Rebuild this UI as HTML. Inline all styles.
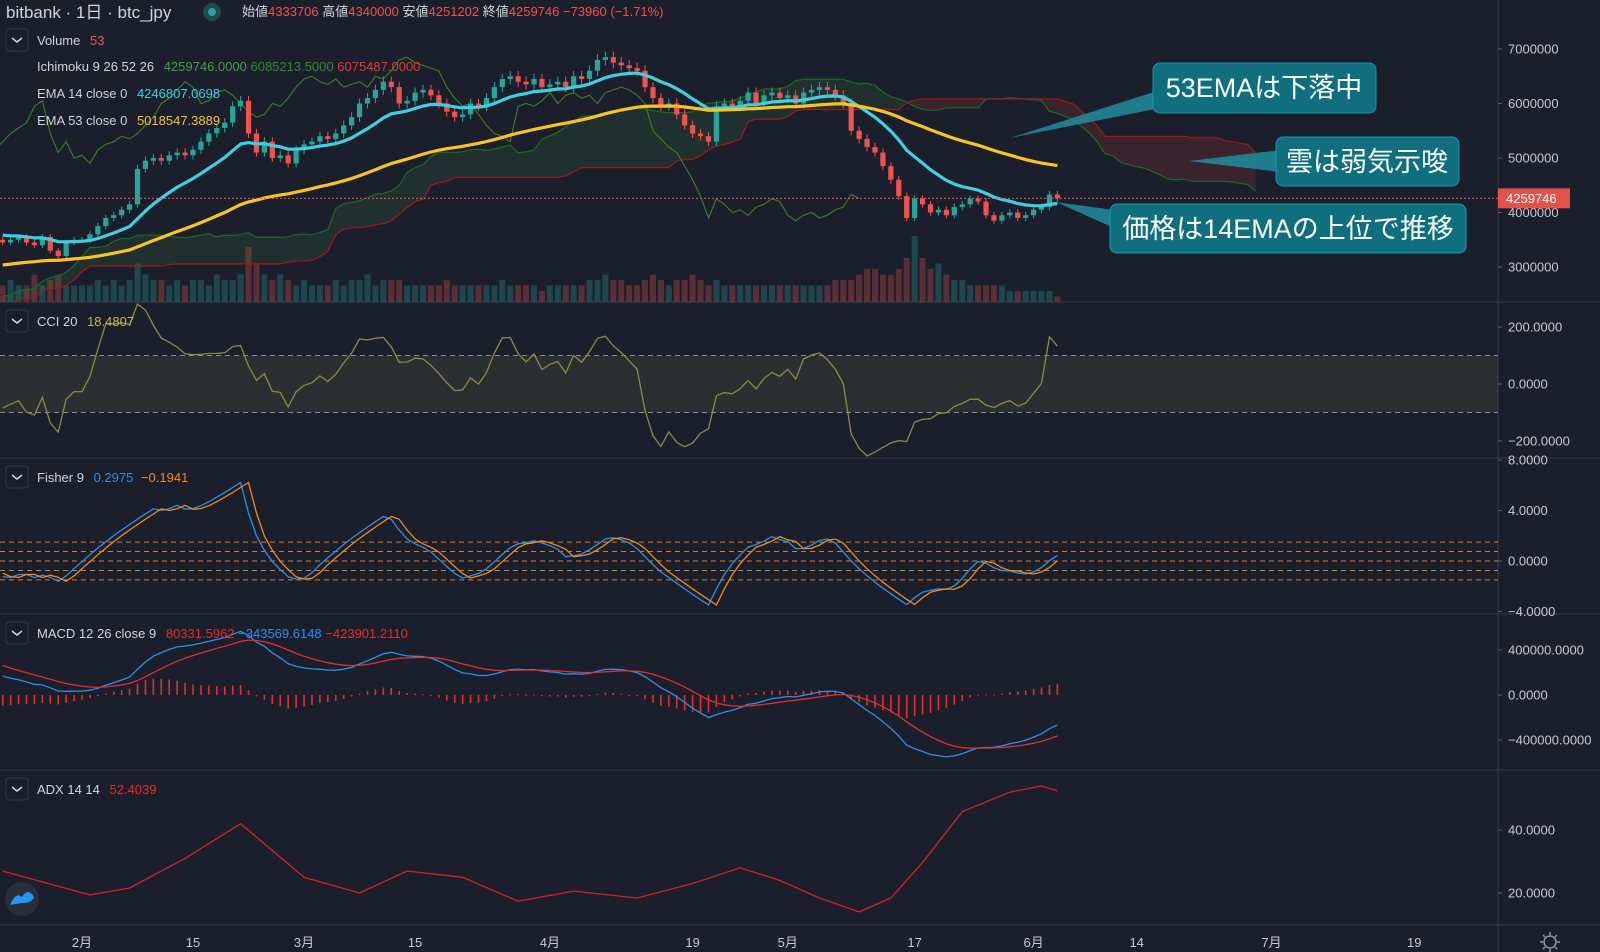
<!DOCTYPE html>
<html><head><meta charset="utf-8">
<style>
html,body{margin:0;padding:0;background:#1b1f2c;}
svg{display:block;font-family:"Liberation Sans","Noto Sans CJK JP",sans-serif;}
</style></head>
<body>
<svg id="chart" width="1600" height="952" viewBox="0 0 1600 952" xmlns="http://www.w3.org/2000/svg">
<rect width="1600" height="952" fill="#1b1f2c"/>
</svg>
<script>
// ---- data (prices in millions JPY) ----
const preCloses=[1.95,2.0,1.98,1.8,1.85,1.9,1.95,2.0,
2.0,1.98,2.0,1.95,1.98,2.0,1.98,1.95,1.9,1.9,1.88,1.95,1.98,2.0,2.02,2.15,2.35,2.35,2.4,2.45,2.45,2.4,2.4,2.45,2.5,2.6,2.7,2.8,2.8,3.0,3.0,
3.05,3.3,3.4,3.3,3.5,3.7,4.0,4.2,4.1,3.9,3.5,3.5,3.8,4.0,3.8,3.7,3.65,3.7,3.7,3.4,3.5];
const closes=[3.45,3.5,3.55,3.45,3.4,3.55,3.3,3.2,3.45,3.5,
3.5,3.6,3.75,3.9,3.95,4.05,4.15,4.8,4.95,5.0,
4.95,5.05,5.1,5.05,5.15,5.3,5.45,5.55,5.65,
5.95,6.05,5.45,5.1,5.3,5.0,5.05,4.9,5.15,
5.25,5.3,5.4,5.35,5.45,5.6,5.75,6.0,6.1,6.25,
6.4,6.3,6.0,6.05,6.2,6.25,6.15,6.0,5.85,5.75,5.8,
6.0,5.95,6.1,6.3,6.45,6.5,6.4,6.35,6.45,6.3,
6.35,6.4,6.3,6.5,6.45,6.6,6.8,6.85,6.75,6.7,
6.65,6.6,6.3,6.1,5.95,6.0,5.8,5.6,5.45,5.4,
5.3,5.95,6.0,5.95,6.05,6.2,6.0,6.15,6.2,6.1,
6.15,6.0,6.2,6.25,6.3,6.25,6.15,6.0,5.5,5.35,
5.2,5.1,4.85,4.6,4.3,3.9,4.25,4.15,4.0,4.05,
3.95,4.1,4.15,4.25,4.2,3.95,3.85,3.95,4.0,3.9,3.95,
4.05,4.1,4.33,4.26];
const volumes=[3,4,3,3,5,3,4,5,3,3, 3,3,4,3,4,3,4,7,5,4, 4,3,4,3,4,4,3,5,4,4,
5,10,7,5,4,5,4,3,4,3, 3,3,4,3,4,4,5,3,4,4, 4,3,3,3,3,3,4,3,3,3,
3,3,3,4,3,3,3,3,2,3, 3,3,3,3,4,4,5,4,4,3, 3,4,5,4,3,4,4,5,4,3,
4,3,3,3,3,3,3,3,3,3, 3,3,3,3,3,4,4,4,5,6, 6,5,5,6,8,12,8,6,7,5,
4,4,3,3,3,3,3,2,2,2, 2,2,2,1];
const adxDays=[0,11,16,23,30,38,45,51,58,65,72,80,87,93,98,103,108,112,116,121,127,131,133];
const adxVals=[27,19.4,21.6,31,42,25,20,27,25,17.4,20.6,18.4,23,28,24,18.4,14,18.4,29.7,45.8,52,54,52.4];
const priceTicks=[7,6,5,4,3];
const priceTickLabels=["7000000","6000000","5000000","4000000","3000000"];
const cciTicks=[200,0,-200];
const cciTickLabels=["200.0000","0.0000","\u2212200.0000"];
const fisherTicks=[8,4,0,-4];
const fisherTickLabels=["8.0000","4.0000","0.0000","\u22124.0000"];
const fisherLevels=[1.5,0.75,0,-0.75,-1.5];
const macdTicks=[400000,0,-400000];
const macdTickLabels=["400000.0000","0.0000","\u2212400000.0000"];
const adxTicks=[40,20];
const adxTickLabels=["40.0000","20.0000"];
const dateTickDays=[10,24,38,52,69,87,99,115,130,143,160,178];
const dateTickLabels=["2月","15","3月","15","4月","19","5月","17","6月","14","7月","19"];
const lastPrice="4259746";

// ---- axes ----
const AXX=1498;
const X=i=>2.7+i*7.93;
const yP=p=>49+(7-p)*54.5;
const yC=v=>384-v/200*57;
const yF=v=>561-v*12.6;
const yM=v=>695-v/400000*45;
const yA=v=>893-(v-20)*3.15;

const NS="http://www.w3.org/2000/svg";
const svg=document.getElementById('chart');
function mk(tag,attrs,parent){const e=document.createElementNS(NS,tag);for(const k in attrs)e.setAttribute(k,attrs[k]);(parent||svg).appendChild(e);return e;}
function pts(arr){return arr.map(p=>p[0].toFixed(1)+','+p[1].toFixed(1)).join(' ');}

const defs=mk('defs',{});
const cp=mk('clipPath',{id:'plot'},defs);mk('rect',{x:0,y:0,width:AXX,height:302},cp);

// ---- computations ----
const all=preCloses.concat(closes);const OFF=preCloses.length;
const opens=all.map((c,i)=>i?all[i-1]:c);
const highs=all.map((c,i)=>Math.max(c,opens[i])*1.015);
const lows=all.map((c,i)=>Math.min(c,opens[i])*0.985);
function ema(src,n){const k=2/(n+1);let e=src[0];return src.map(v=>e=v*k+e*(1-k));}
const ema14=ema(all,14),ema53=ema(all,53);
function mid(i,n){let h=-1e9,l=1e9;for(let j=Math.max(0,i-n+1);j<=i;j++){h=Math.max(h,highs[j]);l=Math.min(l,lows[j]);}return (h+l)/2;}

[302,458,614,770,925].forEach(y=>{const l=mk('line',{x1:0,x2:1600,y1:y,y2:y,stroke:'#2e3240','stroke-width':1.5});});
const ax=mk('line',{x1:AXX,x2:AXX,y1:0,y2:952,stroke:'#2e3240','stroke-width':1.5});


const main=mk('g',{'clip-path':'url(#plot)'});


closes.forEach((c,i)=>{const g=OFF+i;const up=c>=opens[g];const h=volumes[i]*5.5;
 const r=mk('rect',{x:X(i)-3,y:302-h,width:6,height:h,fill:up?'rgba(38,166,154,0.3)':'rgba(239,83,80,0.3)'},main);
 });

const spanA=[],spanB=[];
for(let i=-25;i<closes.length;i++){const g=OFF+i;const a=(mid(g,9)+mid(g,26))/2,b=mid(g,52);spanA.push([X(i+25),yP(a)]);spanB.push([X(i+25),yP(b)]);}
for(let k=0;k<spanA.length-1;k++){const bull=spanA[k][1]<spanB[k][1];
 const p=mk('polygon',{points:pts([spanA[k],spanA[k+1],spanB[k+1],spanB[k]]),fill:bull?'rgba(67,160,71,0.13)':'rgba(229,57,53,0.16)',stroke:'none'},main);
 }
const la=mk('polyline',{points:pts(spanA),fill:'none',stroke:'#1e6b22','stroke-width':1.2},main);

const lb=mk('polyline',{points:pts(spanB),fill:'none',stroke:'#a3171b','stroke-width':1.2},main);

const chik=closes.map((c,i)=>[X(i-25),yP(c)]);
const lc=mk('polyline',{points:pts(chik),fill:'none',stroke:'#3f7f26','stroke-width':1.1},main);


const pl=mk('line',{x1:0,x2:AXX,y1:yP(closes[closes.length-1]),y2:yP(closes[closes.length-1]),stroke:'#ef5350','stroke-width':1,'stroke-dasharray':'2,2'});


closes.forEach((c,i)=>{const g=OFF+i;const o=opens[g];const up=c>=o;const col=up?'#26a69a':'#ef5350';
 const w=mk('line',{x1:X(i),x2:X(i),y1:yP(highs[g]),y2:yP(lows[g]),stroke:col,'stroke-width':1},main);
 
 const t=Math.min(yP(o),yP(c)),h=Math.max(1.5,Math.abs(yP(o)-yP(c)));
 const b=mk('rect',{x:X(i)-2.6,y:t,width:5.2,height:h,fill:col},main);
 });

const e14=closes.map((c,i)=>[X(i),yP(ema14[OFF+i])]);
const e53=closes.map((c,i)=>[X(i),yP(ema53[OFF+i])]);
const l14=mk('polyline',{points:pts(e14),fill:'none',stroke:'#3fd0e0','stroke-width':3.2},main);

const l53=mk('polyline',{points:pts(e53),fill:'none',stroke:'#f7c325','stroke-width':3.2},main);


// ---- CCI ----
const tp=all.map((c,i)=>(highs[i]+lows[i]+c)/3);
const cci=all.map((v,i)=>{const s=Math.max(0,i-19);const w=tp.slice(s,i+1);const m=w.reduce((a,b)=>a+b,0)/w.length;const d=w.reduce((a,b)=>a+Math.abs(b-m),0)/w.length||1e-9;return (v-m)/(0.015*d);});
const band=mk('rect',{x:0,y:yC(100),width:AXX,height:yC(-100)-yC(100),fill:'rgba(120,123,80,0.18)'});

[100,-100].forEach(v=>{const l=mk('line',{x1:0,x2:AXX,y1:yC(v),y2:yC(v),stroke:'#8a8c95','stroke-width':1,'stroke-dasharray':'5,4'});});
const cl=mk('polyline',{points:pts(closes.map((c,i)=>[X(i),Math.max(304,Math.min(456,yC(cci[OFF+i])))])),fill:'none',stroke:'#8e8a45','stroke-width':1.3});


// ---- Fisher (on closes) ----
let val=0,fish=0;const fishArr=[];
all.forEach((c,i)=>{let hh=-1e9,ll=1e9;for(let j=Math.max(0,i-8);j<=i;j++){hh=Math.max(hh,all[j]);ll=Math.min(ll,all[j]);}
 val=0.66*((c-ll)/Math.max(hh-ll,1e-9)-0.5)+0.67*val;val=Math.max(-0.999,Math.min(0.999,val));
 fish=0.5*Math.log((1+val)/(1-val))+0.5*fish;fishArr.push(fish);});
fisherLevels.forEach(v=>{const l=mk('line',{x1:0,x2:AXX,y1:yF(v),y2:yF(v),stroke:'#e07a1e','stroke-width':1,'stroke-dasharray':'5,4'});});
const clampF=v=>Math.max(459,Math.min(612,yF(v)));
const fl=mk('polyline',{points:pts(closes.map((c,i)=>[X(i),clampF(fishArr[OFF+i])])),fill:'none',stroke:'#2f8ee8','stroke-width':1.3});

const ft=mk('polyline',{points:pts(closes.map((c,i)=>[X(i),clampF(fishArr[OFF+i-1])])),fill:'none',stroke:'#f08a1c','stroke-width':1.3});


// ---- MACD ----
const e12=ema(all,12),e26=ema(all,26);const macd=all.map((v,i)=>(e12[i]-e26[i])*1e6);const sig=ema(macd,9);
closes.forEach((c,i)=>{const g=OFF+i;const h=macd[g]-sig[g];const y0=yM(0),y1=yM(h);
 const r=mk('rect',{x:X(i)-0.8,y:Math.min(y0,y1),width:1.6,height:Math.max(1,Math.abs(y1-y0)),fill:'#e0302d'});
 });
const ml=mk('polyline',{points:pts(closes.map((c,i)=>[X(i),yM(macd[OFF+i])])),fill:'none',stroke:'#2f8ee8','stroke-width':1.3});

const sl=mk('polyline',{points:pts(closes.map((c,i)=>[X(i),yM(sig[OFF+i])])),fill:'none',stroke:'#e0302d','stroke-width':1.3});


// ---- ADX ----
const al=mk('polyline',{points:pts(adxDays.map((d,k)=>[X(d),yA(adxVals[k])])),fill:'none',stroke:'#d0242a','stroke-width':1.3});


function axisLabels(ticks,labels,fy,name){ticks.forEach((t,k)=>{const y=fy(t);
 const tk=mk('line',{x1:AXX,x2:AXX+4,y1:y,y2:y,stroke:'#5d606b'});
 const tx=mk('text',{x:1508,y:y+4.5,fill:'#c8cad2','font-size':13});tx.textContent=labels[k];});}
axisLabels(priceTicks,priceTickLabels,yP,'price-axis');
axisLabels(cciTicks,cciTickLabels,yC,'cci-axis');
axisLabels(fisherTicks,fisherTickLabels,yF,'fisher-axis');
axisLabels(macdTicks,macdTickLabels,yM,'macd-axis');
axisLabels(adxTicks,adxTickLabels,yA,'adx-axis');
dateTickDays.forEach((d,k)=>{const t=mk('text',{x:X(d),y:947,fill:'#c8cad2','font-size':13,'text-anchor':'middle'});t.textContent=dateTickLabels[k];});

const yl=yP(closes[closes.length-1]);
const pr=mk('rect',{x:AXX,y:yl-10,width:72,height:20,fill:'#e0524a'});
const pt=mk('text',{x:1506,y:yl+4.5,fill:'#fff','font-size':13});pt.textContent=lastPrice;
</script>

<svg style="position:absolute;left:0;top:0" width="1600" height="952" font-family="Liberation Sans, Noto Sans CJK JP, sans-serif">
 <g>
  <text x="6" y="18" fill="#d1d4dc" font-size="17">bitbank · 1日 · btc_jpy</text>
  <circle cx="212" cy="12" r="9" fill="#1d4a4a"/>
  <circle cx="212" cy="12" r="4" fill="#26a69a"/>
  <text x="242" y="16" font-size="13" fill="#d1d4dc">始値<tspan fill="#ef5350">4333706</tspan> 高値<tspan fill="#ef5350">4340000</tspan> 安値<tspan fill="#ef5350">4251202</tspan> 終値<tspan fill="#ef5350">4259746 −73960 (−1.71%)</tspan></text>
 </g>
 <g font-size="13" fill="#d1d4dc">
  <rect x="6" y="29" width="22" height="22" rx="3" fill="none" stroke="#363a45"/>
  <path d="M12 38 l5 4 l5 -4" stroke="#d1d4dc" fill="none" stroke-width="1.5"/>
  <text x="37" y="45">Volume <tspan dx="6" fill="#ef5350">53</tspan></text>
  <text x="37" y="71">Ichimoku 9 26 52 26 <tspan dx="6" fill="#43a047">4259746.0000</tspan> <tspan fill="#2e8b2e">6085213.5000</tspan> <tspan fill="#e53935">6075487.0000</tspan></text>
  <text x="37" y="98">EMA 14 close 0 <tspan dx="6" fill="#3fd0e0">4246807.0698</tspan></text>
  <text x="37" y="125">EMA 53 close 0 <tspan dx="6" fill="#f7c325">5018547.3889</tspan></text>

  <rect x="6" y="310" width="22" height="22" rx="3" fill="none" stroke="#363a45"/>
  <path d="M12 319 l5 4 l5 -4" stroke="#d1d4dc" fill="none" stroke-width="1.5"/>
  <text x="37" y="326">CCI 20 <tspan dx="6" fill="#c9b458">18.4807</tspan></text>

  <rect x="6" y="466" width="22" height="22" rx="3" fill="none" stroke="#363a45"/>
  <path d="M12 475 l5 4 l5 -4" stroke="#d1d4dc" fill="none" stroke-width="1.5"/>
  <text x="37" y="482">Fisher 9 <tspan dx="6" fill="#2f8ee8">0.2975</tspan> <tspan dx="4" fill="#f08a1c">−0.1941</tspan></text>

  <rect x="6" y="622" width="22" height="22" rx="3" fill="none" stroke="#363a45"/>
  <path d="M12 631 l5 4 l5 -4" stroke="#d1d4dc" fill="none" stroke-width="1.5"/>
  <text x="37" y="638">MACD 12 26 close 9 <tspan dx="6" fill="#e0302d">80331.5962</tspan> <tspan fill="#2f8ee8">−343569.6148</tspan> <tspan fill="#e0302d">−423901.2110</tspan></text>

  <rect x="6" y="778" width="22" height="22" rx="3" fill="none" stroke="#363a45"/>
  <path d="M12 787 l5 4 l5 -4" stroke="#d1d4dc" fill="none" stroke-width="1.5"/>
  <text x="37" y="794">ADX 14 14 <tspan dx="6" fill="#e0302d">52.4039</tspan></text>
 </g>
 <g>
  <polygon points="1160,90 1160,108 1010,138" fill="#1e8d9d" opacity="0.85"/>
  <rect x="1153" y="63" width="223" height="50" rx="7" fill="#0f6f7e" stroke="#1e97a8"/>
  <text x="1264" y="97" fill="#fff" font-size="27" text-anchor="middle">53EMAは下落中</text>
 </g>
 <g>
  <polygon points="1280,150 1280,172 1189,161" fill="#1e8d9d" opacity="0.85"/>
  <rect x="1276" y="137" width="183" height="49" rx="7" fill="#0f6f7e" stroke="#1e97a8"/>
  <text x="1367" y="171" fill="#fff" font-size="27" text-anchor="middle">雲は弱気示唆</text>
 </g>
 <g>
  <polygon points="1114,210 1114,228 1056,202" fill="#1e8d9d" opacity="0.85"/>
  <rect x="1110" y="204" width="356" height="49" rx="7" fill="#0f6f7e" stroke="#1e97a8"/>
  <text x="1288" y="238" fill="#fff" font-size="27" text-anchor="middle">価格は14EMAの上位で推移</text>
 </g>
 <g>
  <circle cx="22" cy="899" r="17" fill="#2a2e39"/>
  <path d="M10 905 q6 -14 12 -8 q6 -10 12 0 q-2 6 -12 6 z" fill="#2196f3"/>
 </g>
 <g stroke="#9598a1" fill="none" stroke-width="1.5">
  <circle cx="1550" cy="942" r="6"/>
  <path d="M1550 932 v3 M1550 949 v3 M1540 942 h3 M1557 942 h3 M1543 935 l2 2 M1555 947 l2 2 M1557 935 l-2 2 M1545 947 l-2 2"/>
 </g>
</svg>
</body></html>
